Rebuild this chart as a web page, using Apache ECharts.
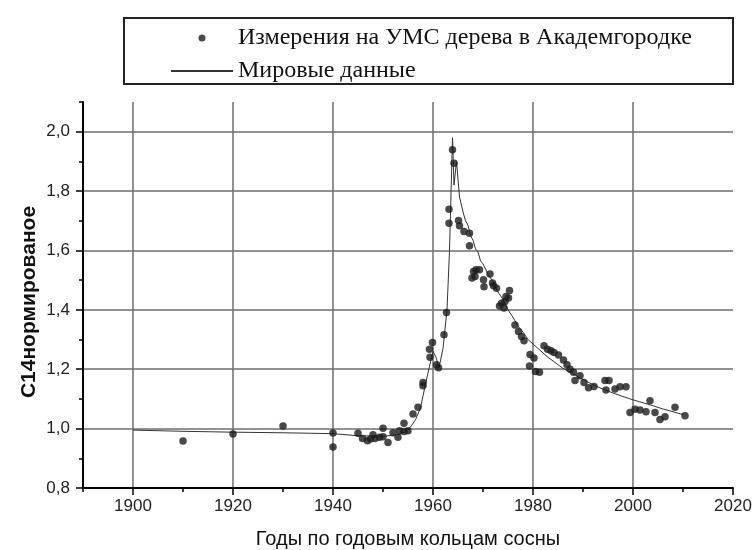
<!DOCTYPE html>
<html>
<head>
<meta charset="utf-8">
<script src="https://cdn.jsdelivr.net/npm/echarts@6/dist/echarts.min.js"></script>
<style>html,body{margin:0;padding:0;background:#fff;}#c{width:754px;height:550px;}</style>
</head>
<body>
<div id="c"></div>
<script>
// ---- data ----
const legendNames = ['Измерения на УМС дерева в Академгородке', 'Мировые данные'];
const xAxisTitle = 'Годы по годовым кольцам сосны';
const yAxisTitle = 'С14нормированое';

const measYears = [1910,1920,1930,1940,1940,1945,1945.9,1946.9,1947.5,1948,1948.4,1949.3,1950,1950,1951,1952,1953,1953.3,1954.2,1954.2,1955,1956,1957,1958,1958,1959.3,1959.4,1959.9,1960.7,1961.1,1962.2,1962.7,1963.2,1963.2,1963.9,1964.2,1965.1,1965.3,1966.2,1967.3,1967.3,1968.1,1968.4,1968.6,1967.8,1969.3,1970.1,1970.2,1971.4,1971.9,1972.1,1972.7,1973.3,1973.7,1974.2,1974.4,1974.6,1975.1,1975.3,1976.4,1977.1,1977.7,1978.2,1979.4,1980.2,1979.3,1980.5,1981.3,1982.2,1982.9,1983.6,1984.2,1985.1,1986.1,1986.8,1987.4,1988.1,1988.4,1989.4,1990.2,1991.1,1992.2,1994.4,1995.2,1994.6,1996.4,1997.4,1998.6,1999.4,2000.4,2001.4,2002.6,2003.4,2004.4,2005.4,2006.4,2008.4,2010.4];
const measValues = [0.958,0.982,1.009,0.985,0.938,0.984,0.967,0.959,0.965,0.979,0.967,0.971,1.001,0.973,0.953,0.986,0.971,0.993,1.018,0.990,0.993,1.049,1.072,1.144,1.155,1.267,1.240,1.290,1.215,1.205,1.316,1.391,1.739,1.692,1.939,1.894,1.701,1.683,1.664,1.658,1.616,1.529,1.512,1.535,1.507,1.535,1.501,1.478,1.521,1.490,1.481,1.473,1.413,1.422,1.406,1.428,1.445,1.440,1.465,1.349,1.327,1.310,1.296,1.250,1.238,1.211,1.192,1.190,1.279,1.267,1.262,1.256,1.248,1.231,1.215,1.200,1.190,1.162,1.178,1.155,1.138,1.142,1.162,1.162,1.130,1.133,1.141,1.141,1.054,1.065,1.063,1.057,1.094,1.054,1.031,1.040,1.072,1.043];

const worldYears = [1900,1910,1920,1930,1940,1945,1950,1953,1954.5,1955.5,1956.5,1957.5,1958.5,1959.3,1960,1960.6,1961.2,1962,1962.8,1963.3,1963.9,1964.2,1964.7,1965.3,1966,1966.5,1967,1967.5,1968,1968.5,1969,1969.5,1970,1971,1972,1973,1974,1975,1976,1977,1978,1979,1980,1981,1982,1983,1984,1985,1986,1988,1990,1992,1994,1996,1998,2000,2002,2004,2006,2008,2010];
const worldValues = [0.995,0.991,0.988,0.986,0.983,0.976,0.974,0.980,0.990,1.005,1.030,1.070,1.150,1.210,1.260,1.240,1.205,1.270,1.400,1.600,1.980,1.820,1.900,1.780,1.730,1.700,1.685,1.650,1.635,1.605,1.595,1.565,1.555,1.520,1.495,1.460,1.435,1.400,1.375,1.345,1.325,1.300,1.285,1.270,1.255,1.240,1.228,1.215,1.203,1.185,1.165,1.148,1.133,1.120,1.108,1.097,1.087,1.077,1.066,1.057,1.047];

const xTickLabels = [1900,1920,1940,1960,1980,2000,2020];
const yTickLabels = ['0,8','1,0','1,2','1,4','1,6','1,8','2,0'];

// ---- chart ----
const chart = echarts.init(document.getElementById('c'), null, {renderer: 'canvas'});
const G = '#6e6e6e';
const sans = 'Liberation Sans, Arial, sans-serif';
const serif = 'Liberation Serif, Times New Roman, serif';
const gridTop = 102, gridBottom = 62, gridLeft = 83, gridRight = 21;
const plotH = 550 - gridTop - gridBottom;
const yTop2 = gridTop + plotH * (0.1 / 1.3);

const xSplitColors = xTickLabels.map((v, i) => i === xTickLabels.length - 1 ? 'rgba(0,0,0,0)' : G);
const ySplitColors = yTickLabels.map((v, i) => i === 0 ? 'rgba(0,0,0,0)' : G);

chart.setOption({
  animation: false,
  backgroundColor: '#fff',
  grid: [
    {left: gridLeft, right: gridRight, top: gridTop, bottom: gridBottom, outerBoundsMode: 'none', containLabel: false},
    {left: gridLeft + 50, right: gridRight, top: gridTop, bottom: gridBottom, outerBoundsMode: 'none', containLabel: false},
    {left: gridLeft, right: gridRight, top: yTop2, bottom: gridBottom, outerBoundsMode: 'none', containLabel: false}
  ],
  legend: {
    orient: 'vertical',
    left: 170, top: 26,
    padding: 0,
    itemWidth: 62, itemHeight: 7, itemGap: 9,
    data: [
      {name: legendNames[0]},
      {name: legendNames[1], itemStyle: {color: 'rgba(0,0,0,0)', borderColor: 'rgba(0,0,0,0)', borderWidth: 0, opacity: 0}}
    ],
    textStyle: {fontFamily: serif, fontSize: 24, color: '#111'}
  },
  graphic: [{
    type: 'rect', shape: {x: 124, y: 18, width: 609, height: 66},
    style: {fill: 'none', stroke: '#222', lineWidth: 2}, silent: true
  }],
  xAxis: [
    {
      gridIndex: 0, type: 'value', min: 1890, max: 2020, interval: 10,
      axisLine: {show: true, lineStyle: {color: '#000', width: 2}},
      axisTick: {show: true, inside: false, length: 4, lineStyle: {color: '#000', width: 1.5}},
      axisLabel: {show: false}, splitLine: {show: false},
      name: xAxisTitle, nameLocation: 'middle', nameGap: 41,
      nameTextStyle: {fontFamily: sans, fontSize: 20, color: '#111'}
    },
    {
      gridIndex: 1, type: 'value', min: 1900, max: 2020, interval: 20,
      axisLine: {show: false},
      axisTick: {show: true, inside: false, length: 7, lineStyle: {color: '#000', width: 1.5}},
      axisLabel: {show: true, margin: 10, fontFamily: sans, fontSize: 17, color: '#222',
        formatter: v => String(v)},
      splitLine: {show: true, lineStyle: {color: xSplitColors, width: 1.5}}
    },
    {gridIndex: 2, type: 'value', min: 0, max: 1, show: false}
  ],
  yAxis: [
    {
      gridIndex: 0, type: 'value', min: 0.8, max: 2.1, interval: 0.1,
      axisLine: {show: true, lineStyle: {color: '#000', width: 2}},
      axisTick: {show: true, inside: false, length: 4, lineStyle: {color: '#000', width: 1.5}},
      axisLabel: {show: false}, splitLine: {show: false},
      name: yAxisTitle, nameLocation: 'middle', nameGap: 43,
      nameTextStyle: {fontFamily: sans, fontSize: 21, fontWeight: 'bold', color: '#111', padding: [0, 14, 0, 0]}
    },
    {gridIndex: 1, type: 'value', min: 0, max: 1, show: false},
    {
      gridIndex: 2, type: 'value', min: 0.8, max: 2.0, interval: 0.2,
      axisLine: {show: false},
      axisTick: {show: true, inside: false, length: 7, lineStyle: {color: '#000', width: 1.5}},
      axisLabel: {show: true, margin: 13, fontFamily: sans, fontSize: 17, color: '#222',
        formatter: v => { const i = Math.round((v - 0.8) / 0.2); return yTickLabels[i] !== undefined ? yTickLabels[i] : ''; }},
      splitLine: {show: true, lineStyle: {color: ySplitColors, width: 1.5}}
    }
  ],
  series: [
    {
      name: legendNames[0], type: 'scatter', xAxisIndex: 0, yAxisIndex: 0,
      symbol: 'circle', symbolSize: 7.5,
      itemStyle: {color: '#1c1c1c'},
      data: measYears.map((y, i) => [y, measValues[i]]), z: 4
    },
    {
      name: legendNames[1], type: 'line', xAxisIndex: 0, yAxisIndex: 0,
      symbol: 'none', showSymbol: false,
      lineStyle: {color: '#333', width: 1},
      itemStyle: {color: '#333'},
      data: worldYears.map((y, i) => [y, worldValues[i]]), z: 3
    }
  ]
});
</script>
</body>
</html>
